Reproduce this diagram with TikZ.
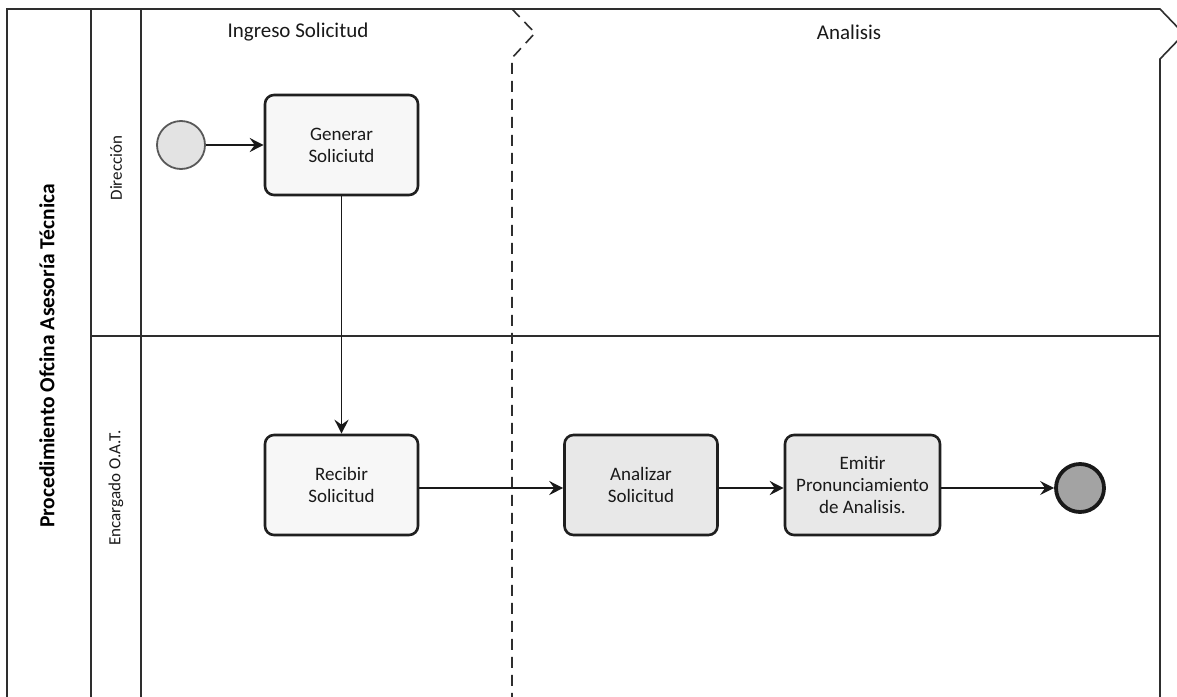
\documentclass[tikz,border=0pt]{standalone}
\usepackage{fontspec}
\setmainfont{Carlito}
\usetikzlibrary{arrows.meta}
\begin{document}
\begin{tikzpicture}[x=1pt,y=-1pt,
  frame/.style={draw=black!82,line width=1.6pt},
  task/.style={draw=black!88,line width=2.6pt,rounded corners=9pt,
    minimum width=153pt,minimum height=100pt,align=center,inner sep=2pt,
    font=\fontsize{19}{22}\selectfont,text=black!90},
  lightfill/.style={fill=black!3},
  grayfill/.style={fill=black!9},
  startev/.style={circle,draw=black!65,line width=1.8pt,fill=black!11,minimum size=48pt,inner sep=0pt},
  endev/.style={circle,draw=black!90,line width=3.8pt,fill=black!36,minimum size=48pt,inner sep=0pt},
  flow/.style={draw=black!90,line width=1.7pt,-{Stealth[length=14pt,width=14pt,inset=5pt]}},
  lanetext/.style={font=\fontsize{17}{19}\selectfont,text=black!90},
  phasetext/.style={font=\fontsize{21}{23}\selectfont,text=black!90}]
\useasboundingbox (0,0) rectangle (1177,696);
\fill[white] (0,0) rectangle (1177,696);
\clip (0,0) rectangle (1177,696);

% pool and lane frame
\draw[frame] (7,720) -- (7,9) -- (1160,9) -- (1184,34) -- (1160,59) -- (1160,720);
\draw[frame] (91,9) -- (91,720);
\draw[frame] (141,9) -- (141,720);
\draw[frame] (91,336) -- (1160,336);
% phase separator
\draw[frame,dash pattern=on 11pt off 7pt] (512,9) -- (535,33) -- (512,58) -- (512,720);

% headers
\node[rotate=90,font=\fontsize{21.5}{23}\selectfont\bfseries] (pool) at (47,356) {Procedimiento Ofcina Asesoría Técnica};
\node[rotate=90,lanetext] (lane1) at (116,168) {Dirección};
\node[rotate=90,lanetext] (lane2) at (116,488) {Encargado O.A.T.};
\node[phasetext] (ph1) at (298,32) {Ingreso Solicitud};
\node[phasetext] (ph2) at (849,32) {Analisis};

% events and tasks
\node[startev] (start) at (181,145) {};
\node[task,lightfill] (gen) at (341.5,145) {Generar\\Soliciutd};
\node[task,lightfill] (rec) at (341.5,485) {Recibir\\Solicitud};
\node[task,grayfill] (ana) at (641,485) {Analizar\\Solicitud};
\node[task,grayfill,minimum width=155pt] (emi) at (862.5,485) {Emitir\\Pronunciamiento\\de Analisis.};
\node[endev] (end) at (1080,488) {};

% sequence flows
\draw[flow] (start) -- (gen);
\draw[flow] (gen) -- (rec);
\draw[flow] (rec.east |- 0,488) -- (ana.west |- 0,488);
\draw[flow] (ana.east |- 0,488) -- (emi.west |- 0,488);
\draw[flow] (emi.east |- 0,488) -- (end);
\end{tikzpicture}
\end{document}
